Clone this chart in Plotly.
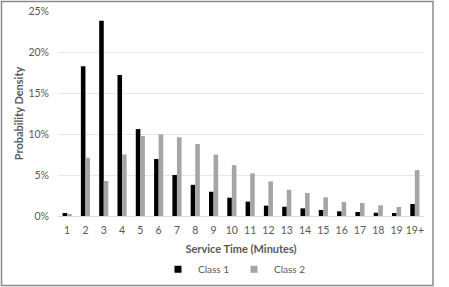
import plotly.graph_objects as go

categories = ["1","2","3","4","5","6","7","8","9","10","11","12","13","14","15","16","17","18","19","19+"]
class1 = [0.0037,0.1826,0.238,0.172,0.106,0.0695,0.050,0.038,0.0296,0.0223,0.0175,0.0126,0.0113,0.0093,0.0073,0.0057,0.0049,0.0040,0.0037,0.0146]
class2 = [0.0020,0.071,0.0427,0.075,0.0975,0.0996,0.096,0.0878,0.0748,0.062,0.052,0.0423,0.032,0.028,0.0227,0.017,0.0158,0.013,0.011,0.056]
series_names = ["Class 1", "Class 2"]
series_colors = ["#000000", "#A5A5A5"]
ytick_vals = [0,0.05,0.10,0.15,0.20,0.25]
ytick_text = ["0%","5%","10%","15%","20%","25%"]

font_family = "Lato, 'Open Sans', sans-serif"
text_color = "#595959"

fig = go.Figure()
for vals, name, col in zip([class1, class2], series_names, series_colors):
    fig.add_trace(go.Bar(x=categories, y=vals, name=name, showlegend=False,
                         marker=dict(color=col, line=dict(width=0))))
# legend entries with small square markers
for name, col in zip(series_names, series_colors):
    fig.add_trace(go.Scatter(x=[None], y=[None], mode="markers", name=name,
                             marker=dict(symbol="square", size=7, color=col)))

fig.update_layout(
    width=449, height=287,
    margin=dict(l=58, r=25, t=11, b=71, autoexpand=False),
    paper_bgcolor="white", plot_bgcolor="white",
    barmode="group", bargap=0.5, bargroupgap=0,
    font=dict(family=font_family, size=10, color=text_color),
    showlegend=True,
    legend=dict(orientation="h", x=(158-58)/366, xanchor="left", y=-0.26, yanchor="middle",
                font=dict(size=10, color=text_color), traceorder="normal",
                itemwidth=30, entrywidth=31, bgcolor="rgba(0,0,0,0)"),
    xaxis=dict(
        type="category", showgrid=False, showline=True, linecolor="#D9D9D9", linewidth=1,
        automargin=False, ticks="", tickfont=dict(size=10.5, color=text_color), ticklabelstandoff=4,
        title=dict(text="<b>Service Time (Minutes)</b>", font=dict(size=11, color=text_color), standoff=10),
    ),
    yaxis=dict(
        range=[0, 0.25], tickvals=ytick_vals, ticktext=ytick_text, automargin=False,
        showgrid=True, gridcolor="#E6E6E6", gridwidth=1, zeroline=False,
        ticks="", tickfont=dict(size=10.5, color=text_color), ticklabelstandoff=8,
        title=dict(text="<b>Probability Density</b>", font=dict(size=11, color=text_color), standoff=2),
    ),
    shapes=[dict(type="rect", xref="paper", yref="paper",
                 x0=(1.5-58)/366, x1=(433-58)/366, y0=(216-285.5)/205, y1=(216-1.5)/205,
                 line=dict(color="#8C8C8C", width=1.5), fillcolor="rgba(0,0,0,0)", layer="below")],
)

fig.write_html("out.html", config={"displayModeBar": False},
               post_script="document.body.style.margin='0';document.body.style.overflow='hidden';")
